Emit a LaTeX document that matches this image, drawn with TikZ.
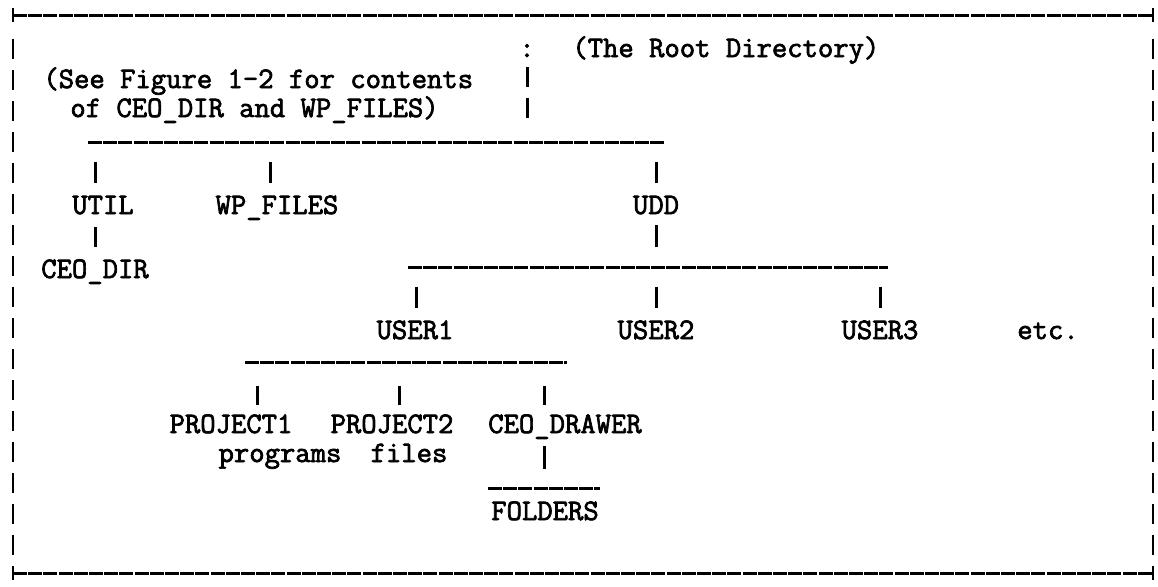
\documentclass[tikz,border=0pt]{standalone}
\usepackage{fontspec}
\newfontfamily\typewriter[FakeBold=2.4]{Latin Modern Mono}
\usepackage{tikz}
\usetikzlibrary{positioning}
\tikzstyle{dirname} = [inner sep=0pt, text height=9pt, text depth=0pt, font=\typewriter\fontsize{14.9}{18}\selectfont]
\tikzstyle{rule} = [line width=1.5pt, dash pattern=on 7pt off 0.6pt]
\tikzstyle{tick} = [line width=1.5pt, shorten <=10pt, shorten >=6.5pt]
\tikzstyle{stem} = [line width=1.5pt]
\tikzstyle{frame} = [line width=1.4pt]

\begin{document}
\begin{tikzpicture}[x=0.5pt, y=-0.5pt]
\useasboundingbox (0,0) rectangle (1158,586);

% outer frame
\draw[rule] (13,15) -- (1153,15);
\draw[rule] (13,573) -- (1153,573);
\draw[frame, dash pattern=on 10pt off 5.5pt] (13,39) -- (13,555);
\draw[frame, dash pattern=on 10pt off 5.5pt] (1153,39) -- (1153,555);
\foreach \cx/\cy in {13/15, 1153/15, 13/573, 1153/573}
    \draw[frame] (\cx,{\cy-7}) -- (\cx,{\cy+7});

% root and notes
\node[dirname] (root) at (527,48) {:};
\node[dirname, anchor=west] (rootnote) at (572,48) {(The Root Directory)};
\node[dirname, anchor=west] (seefig) at (43,79) {(See Figure 1-2 for contents};
\node[dirname, anchor=west] (seefig2) at (70,108) {of CEO\_DIR and WP\_FILES)};

% directories
\node[dirname] (util) at (103,205) {UTIL};
\node[dirname] (wpfiles) at (277,205) {WP\_FILES};
\node[dirname] (udd) at (656,205) {UDD};
\node[dirname] (ceodir) at (95,269) {CEO\_DIR};
\node[dirname] (user1) at (415,330) {USER1};
\node[dirname] (user2) at (656,330) {USER2};
\node[dirname] (user3) at (880,330) {USER3};
\node[dirname] (etc) at (1048,330) {etc.};
\node[dirname] (project1) at (231,424) {PROJECT1};
\node[dirname] (project2) at (392,424) {PROJECT2};
\node[dirname] (ceodrawer) at (565,424) {CEO\_DRAWER};
\node[dirname] (programs) at (280,453) {programs};
\node[dirname] (files) at (409,453) {files};
\node[dirname] (folders) at (545,511) {FOLDERS};

% branch lines
\coordinate (l1w) at (88,142);  \coordinate (l1e) at (664,142);
\coordinate (l2w) at (408,267); \coordinate (l2e) at (888,267);
\coordinate (l3w) at (245,362); \coordinate (l3e) at (567,362);
\coordinate (l4w) at (488,488); \coordinate (l4e) at (600,488);
\draw[rule] (l1w) -- (l1e);
\draw[rule] (l2w) -- (l2e);
\draw[rule] (l3w) -- (l3e);
\draw[rule] (l4w) -- (l4e);

% junctions
\coordinate (j-util) at (95,142);
\coordinate (j-wp) at (270,142);
\coordinate (j-udd) at (656,142);
\coordinate (j-user1) at (416,267);
\coordinate (j-user2) at (656,267);
\coordinate (j-user3) at (880,267);
\coordinate (j-proj1) at (257,362);
\coordinate (j-proj2) at (399,362);
\coordinate (j-drawer) at (544,362);

% connectors
\draw[stem, dash pattern=on 10pt off 5.5pt, shorten <=5pt, shorten >=12pt] (root) -- (root |- l1w);
\draw[tick] (j-util) -- (j-util |- util.north);
\draw[tick] (j-wp) -- (j-wp |- wpfiles.north);
\draw[tick] (j-udd) -- (udd.north);
\draw[stem, shorten <=6.5pt, shorten >=6.5pt] (util.south -| ceodir) -- (ceodir.north);
\draw[stem, shorten <=5.5pt, shorten >=10pt] (udd.south) -- (udd.south |- l2w);
\draw[tick] (j-user1) -- (j-user1 |- user1.north);
\draw[tick] (j-user2) -- (user2.north);
\draw[tick] (j-user3) -- (user3.north);
\draw[tick, shorten <=12pt, shorten >=5pt] (j-proj1) -- (j-proj1 |- project1.north);
\draw[tick, shorten <=12pt, shorten >=5pt] (j-proj2) -- (j-proj2 |- project2.north);
\draw[tick, shorten <=12pt, shorten >=5pt] (j-drawer) -- (j-drawer |- ceodrawer.north);
\draw[stem, shorten <=6.5pt, shorten >=9.5pt] (j-drawer |- ceodrawer.south) -- (j-drawer |- l4w);
\end{tikzpicture}
\end{document}
